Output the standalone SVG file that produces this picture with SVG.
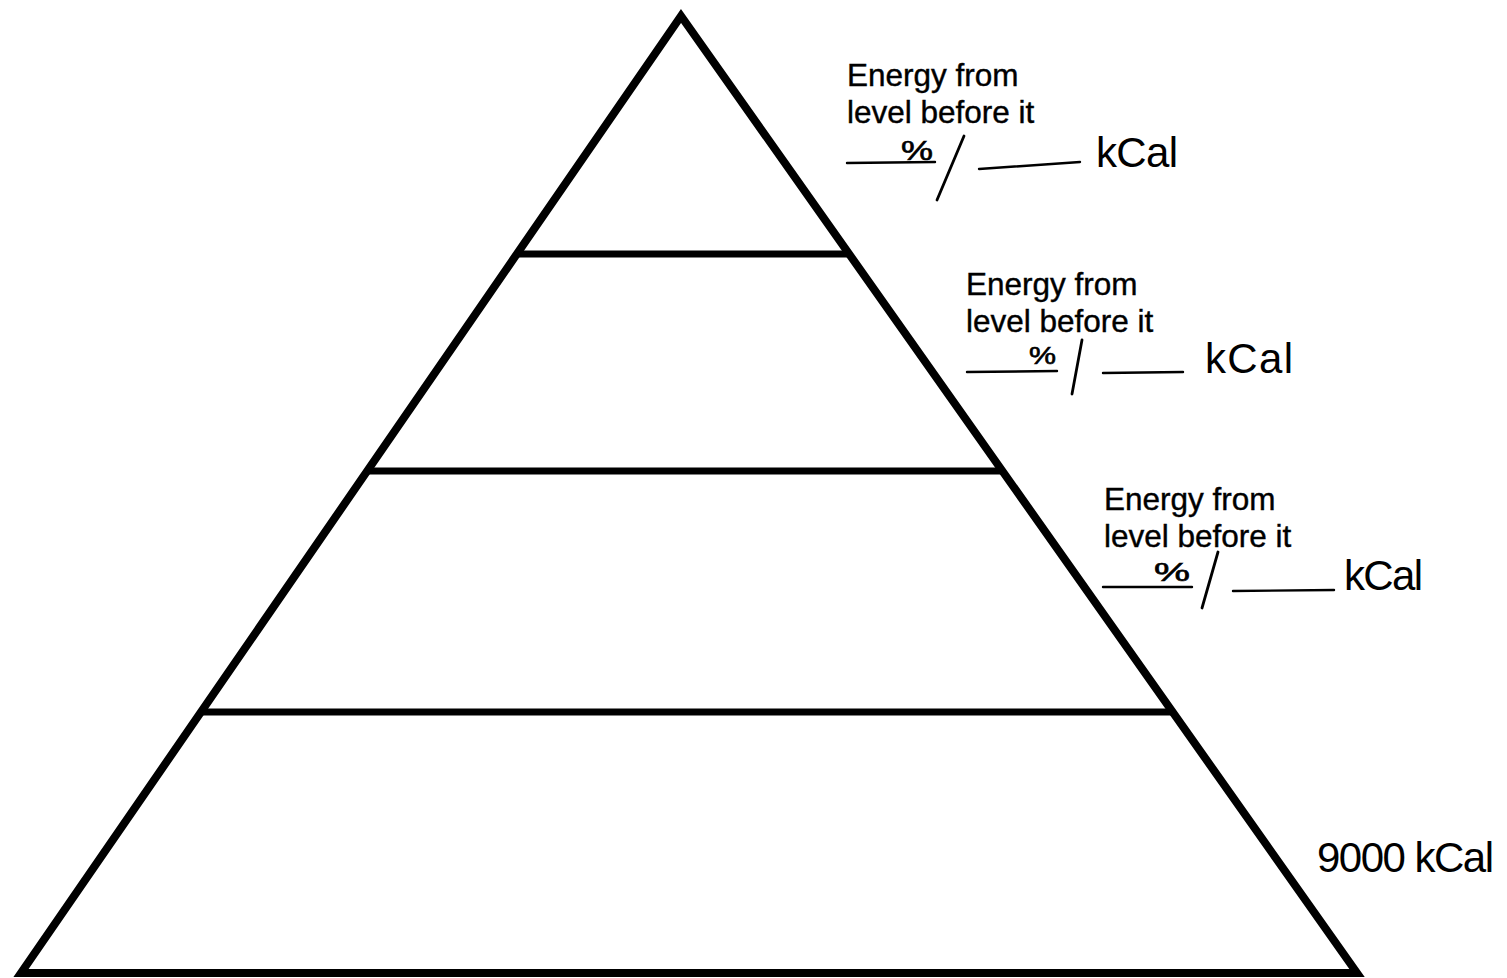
<svg xmlns="http://www.w3.org/2000/svg" width="1507" height="978" viewBox="0 0 1507 978">
<style>
.edge{fill:none;stroke:#000;stroke-width:8;stroke-linejoin:miter;stroke-miterlimit:20}
.tier{stroke:#000;stroke-width:7}
.lbl{font-family:"Liberation Sans",Arial,sans-serif;font-size:31.5px;fill:#000;stroke:#000;stroke-width:0.4}
.hand{font-family:"Liberation Sans",Arial,sans-serif;font-weight:normal;fill:#000}
.pct{font-family:"Liberation Sans",Arial,sans-serif;fill:#000;stroke:#000;stroke-width:0.6}
.ul{stroke:#000;stroke-width:2.4;fill:none;stroke-linecap:round}
.sl{stroke:#000;stroke-width:2.8;fill:none;stroke-linecap:round}
</style>
<rect width="1507" height="978" fill="#fff"/>
<g id="pyramid">
<polygon class="edge" points="681,16 21,973 1357,973"/>
<line class="tier" x1="516" y1="254" x2="850" y2="254"/>
<line class="tier" x1="368" y1="471" x2="1001" y2="471"/>
<line class="tier" x1="202" y1="712" x2="1171" y2="712"/>
</g>
<g id="label-top">
<text class="lbl" x="847" y="86">Energy from</text>
<text class="lbl" x="847" y="123">level before it</text>
<line class="ul" x1="847" y1="163" x2="935" y2="162"/>
<text class="pct" x="901" y="160" font-size="28" textLength="32" lengthAdjust="spacingAndGlyphs">%</text>
<line class="sl" x1="964" y1="136" x2="937" y2="200"/>
<line class="ul" x1="979" y1="169" x2="1080" y2="162"/>
<text class="hand" x="1096" y="167" font-size="42" textLength="82">kCal</text>
</g>
<g id="label-second">
<text class="lbl" x="966" y="295">Energy from</text>
<text class="lbl" x="966" y="332">level before it</text>
<line class="ul" x1="967" y1="372" x2="1057" y2="371"/>
<text class="pct" x="1029" y="364" font-size="24" textLength="27" lengthAdjust="spacingAndGlyphs">%</text>
<line class="sl" x1="1082" y1="340" x2="1072" y2="394"/>
<line class="ul" x1="1103" y1="373" x2="1183" y2="372"/>
<text class="hand" x="1205" y="373" font-size="42" textLength="88">kCal</text>
</g>
<g id="label-third">
<text class="lbl" x="1104" y="510">Energy from</text>
<text class="lbl" x="1104" y="547">level before it</text>
<line class="ul" x1="1103" y1="587" x2="1192" y2="587"/>
<text class="pct" x="1154" y="581" font-size="26" textLength="36" lengthAdjust="spacingAndGlyphs">%</text>
<line class="sl" x1="1218" y1="552" x2="1202" y2="608"/>
<line class="ul" x1="1233" y1="591" x2="1334" y2="590"/>
<text class="hand" x="1344" y="590" font-size="42" textLength="79">kCal</text>
</g>
<g id="label-base">
<text class="hand" x="1317" y="872" font-size="42" textLength="177">9000 kCal</text>
</g>
</svg>
